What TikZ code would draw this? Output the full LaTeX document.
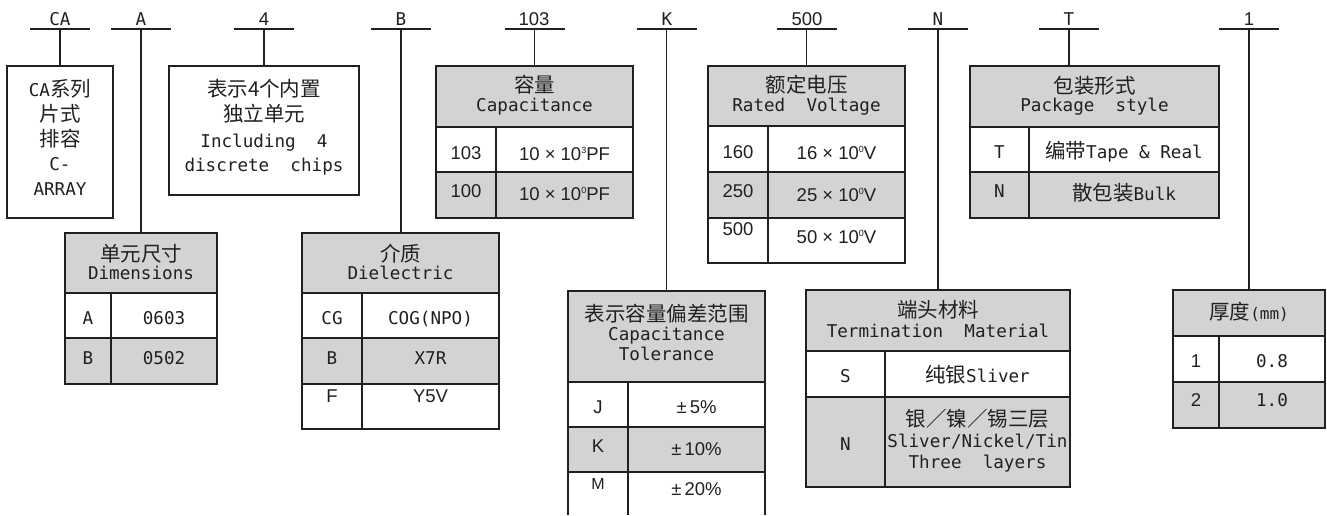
\documentclass[tikz,border=0pt]{standalone}
\usepackage{fontspec}
\setmainfont{DejaVu Sans Mono}
\newfontfamily\mon{DejaVu Sans Mono}
\newfontfamily\cjk{Noto Sans CJK SC}
\newfontfamily\ars{Liberation Sans}
\newcommand\fmono{\mon\fontsize{17.6}{20}\selectfont}
\newcommand\fzh{\cjk\fontsize{20.5}{24}\selectfont}
\newcommand\fsans{\ars\fontsize{18.5}{21}\selectfont}
\newcommand\zh[1]{{\fzh #1}}
\newcommand\sups[1]{\raisebox{7pt}{\ars\fontsize{9}{9}\selectfont #1}}
\definecolor{hdr}{RGB}{211,210,212}
\definecolor{ln}{RGB}{35,31,32}
\tikzset{
  frame/.style={draw=ln, line width=1.6pt, inner sep=0pt, outer sep=0pt, anchor=north west},
  lineS/.style={draw=ln, line width=1.6pt},
  txm/.style={anchor=base, inner sep=0pt, text=ln, font=\fmono},
  txz/.style={anchor=base, inner sep=0pt, text=ln, font=\fzh},
  txs/.style={anchor=base, inner sep=0pt, text=ln, font=\fsans},
}
\begin{document}
\begin{tikzpicture}[x=1pt,y=-1pt]
\useasboundingbox[fill=white] (0,0) rectangle (1327,515);

% ---------- fills ----------
\fill[hdr] (436,66) rectangle (633,127);
\fill[hdr] (436,172) rectangle (633,218);
\fill[hdr] (708,66) rectangle (905,126);
\fill[hdr] (708,172) rectangle (905,218);
\fill[hdr] (970,66) rectangle (1219,127);
\fill[hdr] (970,172) rectangle (1219,218);
\fill[hdr] (65,233) rectangle (217,293);
\fill[hdr] (65,338) rectangle (217,384);
\fill[hdr] (302,233) rectangle (499,293);
\fill[hdr] (302,338) rectangle (499,384);
\fill[hdr] (568,291) rectangle (765,382);
\fill[hdr] (568,427) rectangle (765,472);
\fill[hdr] (806,290) rectangle (1070,351);
\fill[hdr] (806,397) rectangle (1070,487);
\fill[hdr] (1173,290) rectangle (1325,336);
\fill[hdr] (1173,382) rectangle (1325,428);

% ---------- inner grid lines ----------
\draw[lineS] (436,127) -- (633,127) (436,172) -- (633,172) (496,127) -- (496,218);
\draw[lineS] (708,126) -- (905,126) (708,172) -- (905,172) (708,218) -- (905,218) (768,126) -- (768,263);
\draw[lineS] (970,127) -- (1219,127) (970,172) -- (1219,172) (1029,127) -- (1029,218);
\draw[lineS] (65,293) -- (217,293) (65,338) -- (217,338) (111,293) -- (111,384);
\draw[lineS] (302,293) -- (499,293) (302,338) -- (499,338) (302,384) -- (499,384) (362,293) -- (362,429);
\draw[lineS] (568,382) -- (765,382) (568,427) -- (765,427) (568,472) -- (765,472) (628,382) -- (628,515);
\draw[lineS] (806,351) -- (1070,351) (806,397) -- (1070,397) (885,351) -- (885,487);
\draw[lineS] (1173,336) -- (1325,336) (1173,382) -- (1325,382) (1219,336) -- (1219,428);

% ---------- boxes ----------
\node[frame, minimum width=106pt, minimum height=152pt] (boxCA) at (7,66) {};
\node[frame, minimum width=190pt, minimum height=129pt] (box4) at (169,66) {};
\node[frame, minimum width=197pt, minimum height=152pt] (cap) at (436,66) {};
\node[frame, minimum width=197pt, minimum height=197pt] (volt) at (708,66) {};
\node[frame, minimum width=249pt, minimum height=152pt] (pack) at (970,66) {};
\node[frame, minimum width=152pt, minimum height=151pt] (dim) at (65,233) {};
\node[frame, minimum width=197pt, minimum height=196pt] (diel) at (302,233) {};
\node[frame, draw=none, minimum width=197pt, minimum height=224pt] (tol) at (568,291) {};
\draw[lineS] (tol.south west) -- (tol.north west) -- (tol.north east) -- (tol.south east);
\node[frame, minimum width=264pt, minimum height=197pt] (term) at (806,290) {};
\node[frame, minimum width=152pt, minimum height=138pt] (thick) at (1173,290) {};

% ---------- code letters, bars and stems ----------
\node[txm] (lCA) at (60,25) {CA};
\node[txm] (lA) at (141,25) {A};
\node[txs] (l4) at (264,25) {4};
\node[txm] (lB) at (401,25) {B};
\node[txs] (l103) at (534,25) {103};
\node[txm] (lK) at (667,25) {K};
\node[txs] (l500) at (807,25) {500};
\node[txm] (lN) at (938,25) {N};
\node[txm] (lT) at (1069,25) {T};
\node[txs] (l1) at (1249,25) {1};

\coordinate (bCA) at (60,29);
\coordinate (bA) at (141,29);
\coordinate (b4) at (264,29);
\coordinate (bB) at (401,29);
\coordinate (b103) at (534.5,29);
\coordinate (bK) at (666.5,29);
\coordinate (b500) at (806.5,29);
\coordinate (bN) at (938,29);
\coordinate (bT) at (1069,29);
\coordinate (b1) at (1249,29);

\foreach \c in {bCA,bA,b4,bB,b103,bK,b500,bN,bT,b1}
  \draw[lineS] ([xshift=-30pt]\c) -- ([xshift=30pt]\c);

\draw[lineS] (bCA) -- (bCA |- boxCA.north);
\draw[lineS] (bA) -- (bA |- dim.north);
\draw[lineS] (b4) -- (b4 |- box4.north);
\draw[lineS] (bB) -- (bB |- diel.north);
\draw[lineS] (b103) -- (b103 |- cap.north);
\draw[lineS] (bK) -- (bK |- tol.north);
\draw[lineS] (b500) -- (b500 |- volt.north);
\draw[lineS] (bN) -- (bN |- term.north);
\draw[lineS] (bT) -- (bT |- pack.north);
\draw[lineS] (b1) -- (b1 |- thick.north);

% ---------- CA box ----------
\node[txm] (ca1) at (60,96) {CA\zh{系列}};
\node[txz] (ca2) at (60,121) {片式};
\node[txz] (ca3) at (60,146) {排容};
\node[txm] (ca4) at (60,170) {C-};
\node[txm] (ca5) at (60,195) {ARRAY};

% ---------- 4 box ----------
\node[txz] (f1) at (264,96) {表示4个内置};
\node[txz] (f2) at (264,121) {独立单元};
\node[txm] (f3) at (264,147) {Including~~4};
\node[txm] (f4) at (264,171) {discrete~~chips};

% ---------- capacitance ----------
\node[txz] (caph1) at (534.5,92.5) {容量};
\node[txm] (caph2) at (534.5,111) {Capacitance};
\node[txs] (capa1) at (466,159.5) {103};
\node[txs] (capb1) at (564.5,160) {10 × 10\sups{3}PF};
\node[txs] (capa2) at (466,197) {100};
\node[txs] (capb2) at (564.5,200) {10 × 10\sups{0}PF};

% ---------- voltage ----------
\node[txz] (vh1) at (806.5,92.5) {额定电压};
\node[txm] (vh2) at (806.5,111.5) {Rated~~Voltage};
\node[txs] (va1) at (738,158) {160};
\node[txs] (vb1) at (836.5,159) {16 × 10\sups{0}V};
\node[txs] (va2) at (738,197) {250};
\node[txs] (vb2) at (836.5,201) {25 × 10\sups{0}V};
\node[txs] (va3) at (738,235) {500};
\node[txs] (vb3) at (836.5,243) {50 × 10\sups{0}V};

% ---------- package ----------
\node[txz] (ph1) at (1094.5,93) {包装形式};
\node[txm] (ph2) at (1094.5,111.5) {Package~~style};
\node[txm] (pa1) at (999.5,158) {T};
\node[txm] (pb1) at (1124,158) {\zh{编带}Tape \& Real};
\node[txm] (pa2) at (999.5,197) {N};
\node[txm] (pb2) at (1124,200) {\zh{散包装}Bulk};

% ---------- dimensions ----------
\node[txz] (dh1) at (141,261) {单元尺寸};
\node[txm] (dh2) at (141,279) {Dimensions};
\node[txm] (da1) at (88,324) {A};
\node[txm] (db1) at (164,324) {0603};
\node[txm] (da2) at (88,364) {B};
\node[txm] (db2) at (164,364) {0502};

% ---------- dielectric ----------
\node[txz] (eh1) at (400.5,261) {介质};
\node[txm] (eh2) at (400.5,279) {Dielectric};
\node[txm] (ea1) at (332,324) {CG};
\node[txm] (eb1) at (430.5,324) {COG(NPO)};
\node[txm] (ea2) at (332,364) {B};
\node[txm] (eb2) at (430.5,364) {X7R};
\node[txs] (ea3) at (332,402) {F};
\node[txs] (eb3) at (430.5,402) {Y5V};

% ---------- tolerance ----------
\node[txz] (th1) at (666.5,321) {表示容量偏差范围};
\node[txm] (th2) at (666.5,340) {Capacitance};
\node[txm] (th3) at (666.5,360) {Tolerance};
\node[txs] (ta1) at (598,413) {J};
\node[txs] (tb1) at (696.5,413) {±\,5\%};
\node[txs] (ta2) at (598,452) {K};
\node[txs] (tb2) at (696.5,455) {±\,10\%};
\node[txs, font=\ars\fontsize{16}{18}\selectfont] (ta3) at (598,489) {M};
\node[txs] (tb3) at (696.5,495) {±\,20\%};

% ---------- termination ----------
\node[txz] (mh1) at (938,317) {端头材料};
\node[txm] (mh2) at (938,337) {Termination~~Material};
\node[txm] (ma1) at (845.5,382) {S};
\node[txm] (mb1) at (977.5,382) {\zh{纯银}Sliver};
\node[txz] (mb2) at (977.5,426) {银／镍／锡三层};
\node[txm] (mb3) at (977.5,447) {Sliver/Nickel/Tin};
\node[txm] (mb4) at (977.5,468) {Three~~layers};
\node[txm] (ma2) at (845.5,450) {N};

% ---------- thickness ----------
\node[txz] (kh1) at (1249,319) {厚度{\mon\fontsize{16}{18}\selectfont(mm)}};
\node[txs] (ka1) at (1196,367) {1};
\node[txm] (kb1) at (1272,367) {0.8};
\node[txs] (ka2) at (1196,406) {2};
\node[txm] (kb2) at (1272,406) {1.0};
\end{tikzpicture}
\end{document}
